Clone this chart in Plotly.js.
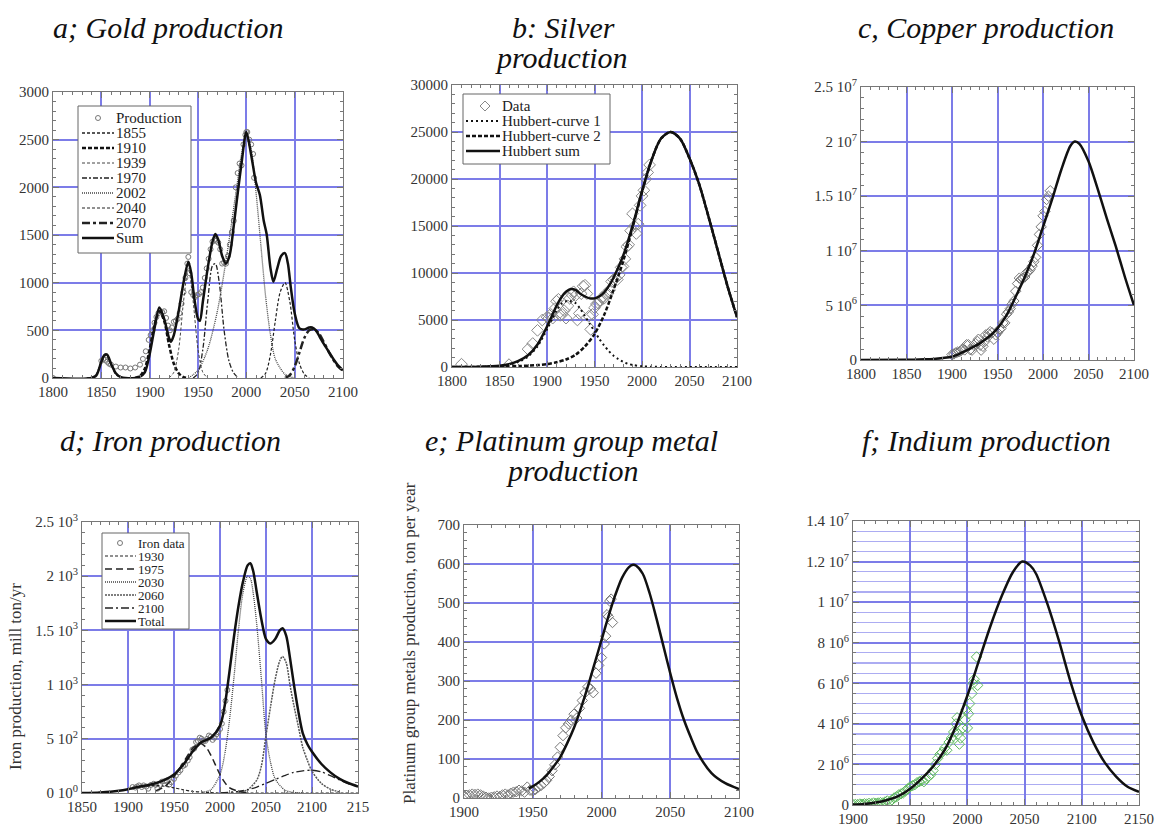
<!DOCTYPE html>
<html><head><meta charset="utf-8">
<script src="https://cdn.plot.ly/plotly-3.0.1.min.js"></script>
<style>html,body{margin:0;padding:0;background:#fff;}</style>
</head><body><div id="chart" style="width:1157px;height:832px;"></div>
<script>
// ---------- a: Gold ----------
const goldDataYears = [1800,1850,1852,1854,1856,1858,1860,1865,1870,1875,1880,1885,1890,1893,1896,1899,1901,1903,1905,1907,1909,1911,1913,1915,1917,1919,1921,1923,1925,1927,1929,1931,1933,1935,1937,1939,1940,1941,1943,1945,1947,1949,1951,1953,1955,1957,1959,1961,1963,1965,1967,1969,1971,1973,1975,1977,1979,1981,1983,1985,1987,1989,1991,1993,1995,1997,1999,2000,2001,2003,2005,2007,2008];
const goldDataVals = [0,180,200,190,170,150,140,120,110,110,100,110,140,200,280,400,450,500,580,640,680,700,690,700,630,550,500,530,590,600,620,680,780,900,1050,1200,1270,1100,900,870,850,870,880,900,950,1050,1150,1250,1350,1430,1450,1440,1420,1350,1200,1210,1200,1280,1400,1530,1650,2000,2150,2250,2230,2450,2550,2580,2580,2500,2450,2350,2100];
const goldSumYears = [1800,1840,1845,1850,1853,1856,1860,1865,1870,1875,1885,1890,1895,1900,1905,1910,1915,1920,1922,1925,1930,1935,1940,1943,1946,1950,1952,1955,1960,1965,1968,1971,1975,1979,1983,1987,1990,1995,2000,2005,2010,2014,2018,2021,2025,2028,2032,2036,2040,2043,2046,2050,2055,2060,2065,2068,2072,2076,2080,2085,2090,2095,2100];
const goldSumVals = [0,0,30,170,240,245,150,50,10,0,0,15,60,250,520,740,620,420,380,450,700,1000,1220,1100,850,620,600,800,1150,1430,1510,1450,1280,1200,1300,1600,1850,2250,2580,2340,2050,1920,1650,1510,1150,1010,1150,1280,1310,1200,950,680,520,510,530,530,500,430,360,280,200,130,80];
const gold1855Years = [1835,1840,1845,1850,1855,1860,1865,1870,1875];
const gold1855Vals = [0,5,40,170,240,150,40,8,0];
const gold1910Years = [1885,1890,1895,1900,1905,1910,1915,1920,1925,1930,1935,1940];
const gold1910Vals = [0,20,100,300,560,700,600,350,150,50,10,0];
const gold1939Years = [1920,1925,1930,1935,1940,1945,1950,1955,1960];
const gold1939Vals = [0,60,300,800,1150,800,300,60,0];
const gold1970Years = [1945,1950,1955,1960,1965,1968,1972,1977,1982,1987,1992];
const gold1970Vals = [0,50,300,800,1180,1200,1000,500,180,50,0];
const gold2002Years = [1940,1950,1960,1970,1980,1990,1995,2000,2005,2010,2015,2020,2025,2030,2040,2050];
const gold2002Vals = [0,80,300,700,1300,2000,2350,2550,2400,1950,1400,850,450,200,40,0];
const gold2040Years = [2015,2020,2025,2030,2035,2040,2045,2050,2055,2060,2065];
const gold2040Vals = [0,50,250,600,900,1000,800,400,150,40,0];
const gold2070Years = [2040,2045,2050,2055,2060,2065,2070,2075,2080,2085,2090,2095,2100];
const gold2070Vals = [0,30,120,270,420,500,510,470,380,280,190,120,75];
const goldYTicks = [0,500,1000,1500,2000,2500,3000];
const goldYLabels = ['0','500','1000','1500','2000','2500','3000'];
const goldLegendLabels = ['Production','1855','1910','1939','1970','2002','2040','2070','Sum'];

// ---------- b: Silver ----------
const silverDataYears = [1810,1860,1880,1885,1890,1895,1900,1902,1904,1906,1908,1910,1912,1914,1916,1918,1920,1922,1924,1926,1928,1930,1932,1934,1936,1938,1940,1942,1944,1946,1948,1950,1952,1954,1956,1958,1960,1962,1964,1966,1968,1970,1972,1974,1976,1978,1980,1982,1984,1986,1988,1990,1992,1994,1996,1998,2000,2002,2004,2006,2008];
const silverDataVals = [300,250,1900,2500,3900,5000,5300,5200,5600,5200,6200,7000,7200,5500,5600,6000,5200,6500,7300,7700,8000,7600,5000,5700,7800,8600,8700,7800,5400,4000,5600,6300,6700,6800,7100,7400,7300,7800,7800,8200,9100,9300,9400,9300,9800,10600,10700,11500,12800,13000,14500,16300,15000,14200,15200,17200,18200,18800,20000,20700,21500];
const silverC1Years = [1800,1830,1850,1860,1870,1880,1890,1900,1905,1910,1915,1920,1925,1930,1935,1940,1945,1950,1955,1960,1965,1970,1975,1980,1985,1990,2000,2010,2030,2100];
const silverC1Vals = [0,20,100,250,550,1100,2200,4000,5000,6000,6700,7000,7000,6800,6200,5400,4600,3800,3000,2300,1700,1200,850,550,350,220,80,30,0,0];
const silverC2Years = [1800,1850,1870,1890,1900,1910,1920,1930,1940,1950,1960,1970,1980,1990,2000,2010,2020,2030,2040,2050,2060,2070,2080,2090,2100];
const silverC2Vals = [0,30,100,200,300,500,800,1300,2200,3500,5500,8200,11200,14800,18600,22000,24300,25000,24300,22200,19500,16000,12300,8600,5300];
const silverSumYears = [1800,1830,1850,1860,1870,1880,1890,1900,1905,1910,1915,1920,1925,1930,1935,1940,1945,1950,1955,1960,1965,1970,1980,1990,2000,2010,2020,2030,2040,2050,2060,2070,2080,2090,2100];
const silverSumVals = [0,20,130,300,650,1250,2400,4300,5400,6500,7400,8000,8300,8200,7800,7500,7300,7300,7500,7900,8600,9500,11800,15000,18700,22000,24300,25000,24300,22200,19500,16000,12300,8600,5300];
const silverYTicks = [0,5000,10000,15000,20000,25000,30000];
const silverYLabels = ['0','5000','10000','15000','20000','25000','30000'];
const silverLegendLabels = ['Data','Hubbert-curve 1','Hubbert-curve 2','Hubbert sum'];

// ---------- c: Copper ----------
const copperDataYears = [1900,1902,1904,1906,1908,1910,1912,1914,1916,1918,1920,1922,1924,1926,1928,1929,1931,1932,1934,1936,1937,1939,1940,1942,1944,1946,1948,1950,1952,1954,1956,1958,1960,1962,1964,1966,1968,1970,1972,1974,1976,1978,1980,1982,1984,1986,1988,1990,1992,1994,1996,1998,2000,2002,2004,2006,2008];
const copperDataVals = [0.5e6,0.55e6,0.65e6,0.72e6,0.75e6,0.87e6,1.0e6,0.92e6,1.4e6,1.4e6,0.95e6,0.9e6,1.35e6,1.5e6,1.7e6,1.9e6,1.35e6,0.9e6,1.25e6,1.7e6,2.3e6,2.1e6,2.4e6,2.6e6,2.5e6,1.9e6,2.3e6,2.5e6,2.8e6,2.9e6,3.4e6,3.4e6,4.2e6,4.4e6,4.7e6,5.1e6,5.4e6,6.3e6,7.0e6,7.5e6,7.4e6,7.5e6,7.6e6,8.0e6,8.1e6,8.3e6,8.6e6,9.0e6,9.4e6,10.5e6,11.5e6,12.2e6,13.2e6,13.6e6,14.7e6,15.0e6,15.5e6];
const copperCurveYears = [1800,1850,1870,1880,1890,1900,1910,1920,1930,1940,1950,1960,1970,1980,1990,2000,2010,2020,2030,2035,2040,2050,2060,2070,2080,2090,2100];
const copperCurveVals = [0,20000,60000,100000,180000,300000,650000,1050000,1500000,2100000,2900000,4100000,5800000,7600000,9700000,12200000,14700000,17400000,19600000,20000000,19800000,18200000,15700000,13000000,10400000,7600000,5000000];
const copperYTicks = [0,5e6,1e7,1.5e7,2e7,2.5e7];
const copperYLabels = ['0','5 10<sup>6</sup>','1 10<sup>7</sup>','1.5 10<sup>7</sup>','2 10<sup>7</sup>','2.5 10<sup>7</sup>'];

// ---------- d: Iron ----------
const ironDataYears = [1905,1908,1910,1912,1915,1917,1920,1922,1925,1928,1930,1932,1935,1937,1940,1942,1945,1947,1950,1952,1955,1957,1960,1962,1965,1967,1970,1972,1974,1976,1978,1980,1982,1984,1986,1988,1990,1992,1994,1996,1998,2000,2002,2004,2006,2008];
const ironDataVals = [55,50,60,70,55,70,60,40,75,85,75,40,75,105,110,115,80,100,130,160,190,210,250,260,300,330,400,410,470,480,510,500,480,480,500,530,520,490,510,540,560,590,640,750,850,950];
const iron1930Years = [1850,1880,1900,1910,1920,1930,1940,1950,1960,1970,1980,1990,2000,2150];
const iron1930Vals = [0,10,35,50,62,70,62,48,30,15,8,3,0,0];
const iron1975Years = [1930,1940,1950,1960,1970,1978,1985,1990,1995,2000,2005,2010,2020,2030];
const iron1975Vals = [20,60,150,280,410,460,420,350,260,170,100,50,15,0];
const iron2030Years = [1980,1990,2000,2005,2010,2015,2020,2025,2030,2033,2036,2040,2045,2050,2055,2060,2070,2080,2090];
const iron2030Vals = [5,30,170,350,650,1050,1500,1850,2000,1980,1850,1550,1050,530,280,130,30,5,0];
const iron2060Years = [2020,2030,2040,2045,2050,2055,2060,2065,2068,2072,2076,2080,2085,2090,2095,2100,2110,2120,2130];
const iron2060Vals = [5,30,120,250,530,800,1050,1220,1260,1200,1000,820,620,420,300,200,90,35,10];
const iron2100Years = [2000,2020,2030,2040,2050,2060,2070,2080,2090,2100,2110,2120,2130,2140,2150];
const iron2100Vals = [0,15,30,55,90,125,160,190,205,210,195,160,120,85,60];
const ironTotalYears = [1850,1870,1890,1900,1910,1920,1930,1940,1950,1960,1970,1975,1980,1990,2000,2005,2010,2015,2020,2025,2030,2033,2036,2040,2045,2050,2055,2060,2065,2068,2072,2076,2080,2085,2090,2095,2100,2110,2120,2130,2140,2150];
const ironTotalVals = [0,5,20,35,55,70,90,120,170,260,380,430,470,510,620,800,1100,1430,1720,1950,2100,2120,2050,1850,1600,1420,1380,1420,1500,1520,1450,1250,1020,760,550,450,380,270,190,130,90,60];
const ironYTicks = [0,500,1000,1500,2000,2500];
const ironYLabels = ['0 10<sup>0</sup>','5 10<sup>2</sup>','1 10<sup>3</sup>','1.5 10<sup>3</sup>','2 10<sup>3</sup>','2.5 10<sup>3</sup>'];
const ironXTicks = [1850,1900,1950,2000,2050,2100,2150];
const ironXLabels = ['1850','1900','1950','2000','2050','2100','215'];
const ironLegendLabels = ['Iron data','1930','1975','2030','2060','2100','Total'];

// ---------- e: Platinum group metals ----------
const ptDataYears = [1900,1902,1904,1906,1908,1910,1912,1914,1916,1918,1920,1922,1924,1926,1928,1930,1932,1934,1936,1938,1940,1942,1944,1946,1948,1950,1952,1954,1956,1958,1960,1962,1964,1966,1968,1970,1972,1974,1976,1978,1980,1982,1984,1986,1988,1990,1992,1994,1996,1998,2000,2002,2003,2004,2005,2006,2007,2008];
const ptDataVals = [5,7,8,10,9,10,8,5,2,0,2,3,5,4,8,10,8,12,15,16,20,18,15,28,20,18,22,28,32,38,45,55,70,85,105,130,160,180,190,200,215,205,230,250,270,285,280,270,320,340,360,395,415,470,465,505,510,450];
const ptCurveYears = [1947,1950,1955,1960,1965,1970,1975,1980,1985,1990,1995,2000,2005,2010,2015,2020,2023,2025,2030,2035,2040,2045,2050,2055,2060,2065,2070,2080,2090,2100];
const ptCurveVals = [25,30,42,58,80,105,140,180,230,285,345,405,465,520,565,592,598,596,575,525,460,390,320,255,200,155,115,64,38,23];
const ptYTicks = [0,100,200,300,400,500,600,700];
const ptYLabels = ['0','100','200','300','400','500','600','700'];

// ---------- f: Indium ----------
const inDataYears = [1900,1902,1904,1906,1908,1910,1912,1914,1916,1918,1920,1922,1924,1926,1928,1930,1932,1934,1936,1938,1940,1942,1944,1946,1948,1950,1952,1954,1956,1958,1960,1962,1964,1966,1968,1970,1972,1974,1976,1978,1980,1982,1984,1986,1988,1990,1991,1992,1993,1994,1996,1998,1999,2000,2001,2002,2004,2005,2006,2008,2009];
const inDataVals = [0.02e6,0.03e6,0.02e6,0.05e6,0.04e6,0.06e6,0.05e6,0.08e6,0.06e6,0.1e6,0.08e6,0.1e6,0.12e6,0.1e6,0.15e6,0.2e6,0.15e6,0.25e6,0.35e6,0.4e6,0.5e6,0.55e6,0.6e6,0.7e6,0.8e6,0.9e6,0.95e6,1.0e6,1.1e6,1.15e6,1.2e6,1.15e6,1.3e6,1.4e6,1.5e6,1.7e6,2.0e6,2.3e6,2.5e6,2.6e6,2.8e6,2.7e6,3.1e6,3.3e6,3.6e6,4.0e6,4.3e6,3.5e6,3.0e6,3.3e6,3.8e6,4.2e6,4.7e6,3.8e6,4.5e6,5.0e6,5.5e6,6.0e6,6.2e6,7.3e6,5.9e6];
const inCurveYears = [1900,1910,1920,1930,1940,1950,1960,1970,1980,1990,2000,2010,2020,2030,2040,2048,2055,2060,2070,2080,2090,2100,2110,2120,2130,2140,2150];
const inCurveVals = [0.02e6,0.05e6,0.12e6,0.25e6,0.45e6,0.8e6,1.3e6,1.9e6,2.7e6,3.9e6,5.4e6,7.1e6,8.8e6,10.3e6,11.5e6,12.0e6,11.8e6,11.4e6,9.9e6,8.1e6,6.1e6,4.4e6,3.1e6,2.1e6,1.4e6,0.9e6,0.65e6];
const inYTicks = [0,2e6,4e6,6e6,8e6,1e7,1.2e7,1.4e7];
const inYLabels = ['0','2 10<sup>6</sup>','4 10<sup>6</sup>','6 10<sup>6</sup>','8 10<sup>6</sup>','1 10<sup>7</sup>','1.2 10<sup>7</sup>','1.4 10<sup>7</sup>'];

// ---------- styles ----------
const W = 1157, H = 832;
const GRID = '#7c7ce8', FRAME = '#777', TXT = '#333';
const SERIF = 'Liberation Serif, Times New Roman, serif';
const ST = {
  g1855:{dash:'3px,2px', width:1.5, color:'#222'},
  g1910:{dash:'4px,2px', width:2.5, color:'#111'},
  g1939:{dash:'3px,2px', width:1, color:'#444'},
  g1970:{dash:'5px,2px,2px,2px', width:1.3, color:'#222'},
  g2002:{dash:'1px,1px', width:1.3, color:'#444'},
  g2040:{dash:'3px,2px', width:1.2, color:'#222'},
  g2070:{dash:'8px,3px,3px,3px', width:2.5, color:'#222'},
  sum:{dash:'solid', width:2.5, color:'#111'},
  s1:{dash:'2px,3px', width:2, color:'#111'},
  s2:{dash:'4px,2px', width:2.5, color:'#111'},
  i1930:{dash:'3px,2px', width:1.2, color:'#222'},
  i1975:{dash:'7px,4px', width:1.5, color:'#222'},
  i2030:{dash:'1px,1px', width:1.3, color:'#444'},
  i2060:{dash:'2px,1px', width:1.5, color:'#555'},
  i2100:{dash:'8px,3px,2px,3px', width:1.3, color:'#222'}
};

function xAx(p0, p1, range, tickvals, ticktext, minorD, anchor) {
  return {domain:[p0/W, p1/W], range:range, anchor:anchor, tickmode:'array', tickvals:tickvals, ticktext:ticktext,
    ticks:'inside', ticklen:6, tickcolor:FRAME, showline:true, linecolor:FRAME, linewidth:1, mirror:'allticks',
    showgrid:true, gridcolor:GRID, gridwidth:2, zeroline:false, tickfont:{family:SERIF,size:15,color:TXT},
    minor:{tickmode:'linear', tick0:range[0], dtick:minorD, ticks:'inside', ticklen:3, tickcolor:FRAME, showgrid:false}};
}
function yAx(p0, p1, range, tickvals, ticktext, minorD, anchor, minorGrid) {
  return {domain:[1-p1/H, 1-p0/H], range:range, anchor:anchor, tickmode:'array', tickvals:tickvals, ticktext:ticktext,
    ticks:'inside', ticklen:6, tickcolor:FRAME, showline:true, linecolor:FRAME, linewidth:1, mirror:'allticks',
    showgrid:true, gridcolor:GRID, gridwidth:2, zeroline:false, tickfont:{family:SERIF,size:15,color:TXT},
    minor:{tickmode:'linear', tick0:0, dtick:minorD, ticks:'inside', ticklen:3, tickcolor:FRAME,
      showgrid:!!minorGrid, gridcolor:'#acacf2', gridwidth:1.2}};
}
function line(x, y, xa, ya, name, st) {
  return {type:'scatter', mode:'lines', x:x, y:y, xaxis:xa, yaxis:ya, name:name,
    line:{color:st.color, width:st.width, dash:st.dash, shape:'spline', smoothing:0.8},
    showlegend:false, hoverinfo:'skip'};
}
function pts(x, y, xa, ya, name, symbol, size, color) {
  return {type:'scatter', mode:'markers', x:x, y:y, xaxis:xa, yaxis:ya, name:name,
    marker:{symbol:symbol, size:size, color:color, line:{width:1, color:color}},
    showlegend:false, hoverinfo:'skip'};
}
const yrs50a = [1800,1850,1900,1950,2000,2050,2100];
const yrs50e = [1900,1950,2000,2050,2100];
const yrs50f = [1900,1950,2000,2050,2100,2150];

const traces = [
  pts(goldDataYears, goldDataVals, 'x', 'y', goldLegendLabels[0], 'circle-open', 5, '#777'),
  line(gold1855Years, gold1855Vals, 'x', 'y', goldLegendLabels[1], ST.g1855),
  line(gold1910Years, gold1910Vals, 'x', 'y', goldLegendLabels[2], ST.g1910),
  line(gold1939Years, gold1939Vals, 'x', 'y', goldLegendLabels[3], ST.g1939),
  line(gold1970Years, gold1970Vals, 'x', 'y', goldLegendLabels[4], ST.g1970),
  line(gold2002Years, gold2002Vals, 'x', 'y', goldLegendLabels[5], ST.g2002),
  line(gold2040Years, gold2040Vals, 'x', 'y', goldLegendLabels[6], ST.g2040),
  line(gold2070Years, gold2070Vals, 'x', 'y', goldLegendLabels[7], ST.g2070),
  line(goldSumYears, goldSumVals, 'x', 'y', goldLegendLabels[8], ST.sum),
  pts(silverDataYears, silverDataVals, 'x2', 'y2', silverLegendLabels[0], 'diamond-open', 9, '#888'),
  line(silverC1Years, silverC1Vals, 'x2', 'y2', silverLegendLabels[1], ST.s1),
  line(silverC2Years, silverC2Vals, 'x2', 'y2', silverLegendLabels[2], ST.s2),
  line(silverSumYears, silverSumVals, 'x2', 'y2', silverLegendLabels[3], ST.sum),
  pts(copperDataYears, copperDataVals, 'x3', 'y3', 'Data', 'diamond-open', 8, '#777'),
  line(copperCurveYears, copperCurveVals, 'x3', 'y3', 'Hubbert', ST.sum),
  pts(ironDataYears, ironDataVals, 'x4', 'y4', ironLegendLabels[0], 'circle-open', 5, '#777'),
  line(iron1930Years, iron1930Vals, 'x4', 'y4', ironLegendLabels[1], ST.i1930),
  line(iron1975Years, iron1975Vals, 'x4', 'y4', ironLegendLabels[2], ST.i1975),
  line(iron2030Years, iron2030Vals, 'x4', 'y4', ironLegendLabels[3], ST.i2030),
  line(iron2060Years, iron2060Vals, 'x4', 'y4', ironLegendLabels[4], ST.i2060),
  line(iron2100Years, iron2100Vals, 'x4', 'y4', ironLegendLabels[5], ST.i2100),
  line(ironTotalYears, ironTotalVals, 'x4', 'y4', ironLegendLabels[6], ST.sum),
  pts(ptDataYears, ptDataVals, 'x5', 'y5', 'Data', 'diamond-open', 8, '#777'),
  line(ptCurveYears, ptCurveVals, 'x5', 'y5', 'Hubbert', ST.sum),
  pts(inDataYears, inDataVals, 'x6', 'y6', 'Data', 'diamond-open', 8, '#5cb85c'),
  line(inCurveYears, inCurveVals, 'x6', 'y6', 'Hubbert', ST.sum)
];

function px(x) { return x / W; }
function py(y) { return 1 - y / H; }
function ann(text, x, y, size, extra) {
  return Object.assign({text:text, x:px(x), y:py(y), xref:'paper', yref:'paper', xanchor:'center', yanchor:'middle',
    showarrow:false, font:{family:SERIF, size:size, color:'#111'}}, extra||{});
}
const shapes = [], annotations = [];
// legend box builder (legend drawn with shapes + text)
function legendBox(b, labels, styles, fontSize) {
  shapes.push({type:'rect', xref:'paper', yref:'paper', x0:px(b.x0), x1:px(b.x1), y0:py(b.y0), y1:py(b.y1),
    fillcolor:'#fff', line:{color:'#666', width:1}, layer:'above'});
  labels.forEach(function(lab, i) {
    const yy = b.top + i * b.step, st = styles[i];
    if (st.marker === 'circle') {
      shapes.push({type:'circle', xref:'paper', yref:'paper', x0:px(b.mx-2.5), x1:px(b.mx+2.5), y0:py(yy-2.5), y1:py(yy+2.5),
        line:{color:'#777', width:1}, fillcolor:'rgba(0,0,0,0)', layer:'above'});
    } else if (st.marker === 'diamond') {
      const r = 5;
      shapes.push({type:'path', xref:'paper', yref:'paper', layer:'above', line:{color:'#888', width:1},
        path:'M'+px(b.mx-r)+','+py(yy)+' L'+px(b.mx)+','+py(yy-r)+' L'+px(b.mx+r)+','+py(yy)+' L'+px(b.mx)+','+py(yy+r)+' Z'});
    } else {
      shapes.push({type:'line', xref:'paper', yref:'paper', x0:px(b.lx0), x1:px(b.lx1), y0:py(yy), y1:py(yy),
        line:{color:st.color, width:st.width, dash:st.dash}, layer:'above'});
    }
    annotations.push({text:lab, x:px(b.tx), y:py(yy), xref:'paper', yref:'paper', xanchor:'left', yanchor:'middle',
      showarrow:false, font:{family:SERIF, size:fontSize, color:'#222'}});
  });
}
legendBox({x0:78, x1:191, y0:106, y1:253, top:118, step:15, mx:98, lx0:82, lx1:114, tx:114}, goldLegendLabels,
  [{marker:'circle'}, ST.g1855, ST.g1910, ST.g1939, ST.g1970, ST.g2002, ST.g2040, ST.g2070, ST.sum], 15);
legendBox({x0:463, x1:610, y0:94, y1:164, top:106, step:15, mx:485, lx0:466, lx1:500, tx:500}, silverLegendLabels,
  [{marker:'diamond'}, ST.s1, ST.s2, ST.sum], 15);
legendBox({x0:102, x1:189, y0:533, y1:629, top:543, step:13, mx:120, lx0:105, lx1:136, tx:136}, ironLegendLabels,
  [{marker:'circle'}, ST.i1930, ST.i1975, ST.i2030, ST.i2060, ST.i2100, ST.sum], 13);

annotations.push(
  ann('<i>a; Gold production</i>', 168, 28, 30),
  ann('<i>b: Silver</i>', 563, 28, 30),
  ann('<i>production</i>', 561, 57, 30),
  ann('<i>c, Copper production</i>', 986, 28, 30),
  ann('<i>d; Iron production</i>', 170, 440, 30),
  ann('<i>e; Platinum group metal</i>', 571, 440, 30),
  ann('<i>production</i>', 572, 470, 30),
  ann('<i>f; Indium production</i>', 986, 440, 30),
  ann('Iron production, mill ton/yr', 15, 677, 17, {textangle:-90, font:{family:SERIF,size:17,color:TXT}}),
  ann('Platinum group metals production, ton per year', 409, 643, 17, {textangle:-90, font:{family:SERIF,size:17,color:TXT}})
);

const layout = {
  width:W, height:H, margin:{l:0,r:0,t:0,b:0}, paper_bgcolor:'#fff', plot_bgcolor:'#fff',
  font:{family:SERIF, size:15, color:TXT}, showlegend:false,
  xaxis: xAx(53, 343, [1800,2100], yrs50a, yrs50a.map(String), 10, 'y'),
  yaxis: yAx(92, 378, [0,3000], goldYTicks, goldYLabels, 100, 'x'),
  xaxis2: xAx(452, 737, [1800,2100], yrs50a, yrs50a.map(String), 10, 'y2'),
  yaxis2: yAx(85, 367, [0,30000], silverYTicks, silverYLabels, 1000, 'x2'),
  xaxis3: xAx(861, 1134, [1800,2100], yrs50a, yrs50a.map(String), 10, 'y3'),
  yaxis3: yAx(87, 360, [0,2.5e7], copperYTicks, copperYLabels, 1e6, 'x3'),
  xaxis4: xAx(82, 358, [1850,2150], ironXTicks, ironXLabels, 10, 'y4'),
  yaxis4: yAx(522, 793, [0,2500], ironYTicks, ironYLabels, 100, 'x4'),
  xaxis5: xAx(464, 739, [1900,2100], yrs50e, yrs50e.map(String), 10, 'y5'),
  yaxis5: yAx(525, 798, [0,700], ptYTicks, ptYLabels, 20, 'x5'),
  xaxis6: xAx(853, 1139, [1900,2150], yrs50f, yrs50f.map(String), 10, 'y6'),
  yaxis6: yAx(521, 805, [0,1.4e7], inYTicks, inYLabels, 5e5, 'x6', true),
  shapes: shapes,
  annotations: annotations
};
Plotly.newPlot('chart', traces, layout, {staticPlot:true, displayModeBar:false});
</script>
</body></html>
